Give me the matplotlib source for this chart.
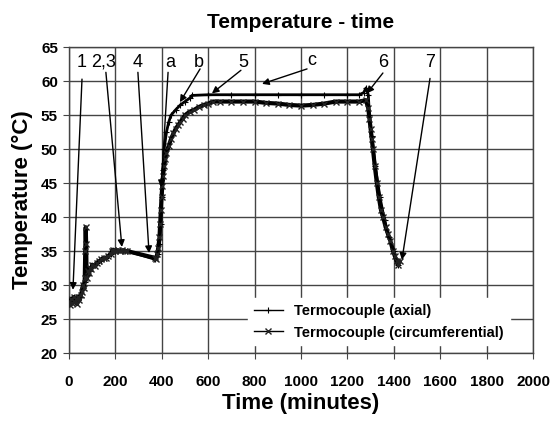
import matplotlib
matplotlib.use("Agg")
import matplotlib.pyplot as plt

plt.rcParams['font.family'] = ['Liberation Sans', 'DejaVu Sans']

# Circumferential thermocouple (time [min], temperature [°C])
circ_t = [0, 5, 10, 15, 20, 25, 30, 35, 40, 45, 50, 55, 60, 65, 68, 70, 72, 74, 76, 80,
          85, 90, 95, 100, 110, 120, 130, 140, 150, 160, 170, 180, 185, 190, 200, 210,
          220, 230, 240, 250, 370, 375, 380, 385, 390, 393, 396, 399, 402, 405, 410, 415,
          420, 430, 440, 450, 460, 470, 480, 490, 500, 520, 540, 560, 580, 600, 620, 650,
          700, 750, 800, 850, 900, 950, 1000, 1050, 1100, 1150, 1200, 1250, 1280, 1290,
          1295, 1300, 1305, 1310, 1318, 1327, 1335, 1345, 1354, 1365, 1375, 1385, 1397,
          1405, 1412, 1418, 1425]
circ_T = [27.5, 27.0, 28.0, 27.3, 28.2, 27.5, 28.0, 27.2, 28.3, 27.8, 28.5, 29.0, 30.0, 29.5,
          31.0, 35.0, 38.5, 36.0, 31.0, 32.0, 31.8, 32.5, 32.3, 33.0, 32.8, 33.3, 33.5, 33.8,
          34.0, 34.0, 34.3, 34.6, 35.0, 35.2, 35.0, 35.1, 35.0, 35.1, 35.0, 35.0, 34.0, 33.8,
          34.5, 35.5, 37.0, 39.0, 41.0, 43.0, 44.5, 46.0, 47.5, 48.5, 49.5, 50.5, 51.5, 52.3,
          53.0, 53.5, 54.0, 54.5, 55.0, 55.5, 55.8, 56.2, 56.5, 56.7, 57.0, 57.0, 57.0, 57.0,
          57.0, 56.8, 56.7, 56.5, 56.4, 56.5, 56.7, 57.0, 57.0, 57.0, 57.2, 56.0, 54.5, 53.0,
          51.5, 50.0, 47.5, 45.0, 43.0, 41.0, 40.0, 38.5, 37.5, 36.5, 35.0, 34.2, 33.5, 33.0,
          33.5]

# Axial thermocouple
axial_t = [0, 10, 20, 30, 40, 50, 60, 70, 80, 90, 100, 110, 120, 140, 160, 180, 190, 200,
           250, 370, 385, 390, 395, 400, 405, 410, 420, 430, 440, 460, 480, 500, 520, 530,
           600, 700, 800, 900, 1000, 1100, 1200, 1250, 1270, 1280, 1290, 1295, 1305, 1320,
           1340, 1360, 1380, 1400, 1415, 1420]
axial_T = [27.8, 27.5, 28.3, 27.8, 28.0, 28.2, 29.5, 30.5, 31.5, 32.0, 32.6, 33.0, 33.2,
           33.6, 34.0, 34.5, 35.0, 35.0, 35.0, 33.8, 34.5, 36.0, 39.0, 43.0, 47.0, 50.0,
           52.5, 54.0, 55.0, 55.8, 56.5, 57.0, 57.5, 57.9, 58.0, 58.0, 58.0, 58.0, 58.0,
           58.0, 58.0, 58.0, 58.3, 59.0, 58.0, 55.0, 52.0, 47.5, 43.0, 39.5, 37.0, 35.0,
           33.3, 33.0]

# Annotations: label, label position, arrow tail, arrow head
ann_labels = ["1", "2,3", "4", "a", "b", "5", "c", "6", "7"]
ann_text_xy = [(56, 62.8), (147, 62.8), (297, 62.8), (435, 62.8), (560, 62.8),
               (750, 62.8), (1047, 63.0), (1353, 62.8), (1556, 62.8)]
ann_tail = [(56, 60.3), (159, 61.3), (297, 61.3), (427, 61.3), (565, 61.8),
            (741, 61.6), (1026, 61.8), (1353, 61.2), (1556, 60.4)]
ann_head = [(17, 29.3), (228, 35.6), (345, 34.7), (397, 44.4), (478, 56.9),
            (616, 58.2), (832, 59.6), (1284, 58.2), (1435, 33.7)]

fig = plt.figure(figsize=(5.52, 4.25), dpi=100)
ax = fig.add_axes([0.125, 0.1694, 0.8406, 0.7196])

ax.plot(axial_t, axial_T, color='black', lw=2.0, marker='+', ms=4, mew=0.8,
        label='Termocouple (axial)', zorder=3)
ax.plot(circ_t, circ_T, color='black', lw=3.0, marker='x', ms=4.5, mew=1.0,
        mec='#222222', label='Termocouple (circumferential)', zorder=3)

for lab, txy, tail, head in zip(ann_labels, ann_text_xy, ann_tail, ann_head):
    ax.text(txy[0], txy[1], lab, ha='center', va='center', fontsize=13, zorder=5)
    ax.annotate('', xy=head, xytext=tail,
                arrowprops=dict(arrowstyle='-|>', color='black', lw=1.0,
                                mutation_scale=10, shrinkA=0, shrinkB=0), zorder=5)

ax.set_xlim(0, 2000)
ax.set_ylim(20, 65)
ax.set_xticks(range(0, 2001, 200))
ax.set_yticks(range(20, 66, 5))
ax.grid(True, color='#444444', lw=1.0)
ax.set_axisbelow(True)
for s in ax.spines.values():
    s.set_color('#444444')
    s.set_linewidth(1.0)
ax.tick_params(axis='both', labelsize=11, length=4, color='#444444')
for lbl in ax.get_xticklabels() + ax.get_yticklabels():
    lbl.set_fontweight('bold')
ax.tick_params(axis='x', pad=12)
ax.tick_params(axis='y', pad=4)

ax.set_title('Temperature - time', fontsize=15, fontweight='bold', pad=14)
ax.set_xlabel('Time (minutes)', fontsize=16, fontweight='bold', labelpad=3)
ax.set_ylabel('Temperature (°C)', fontsize=16, fontweight='bold', labelpad=6)

leg = ax.legend(loc='lower right', bbox_to_anchor=(0.95, 0.025), borderaxespad=0,
                fontsize=10.5, frameon=True, fancybox=False, framealpha=1,
                edgecolor='white', handlelength=2.0)
for t in leg.get_texts():
    t.set_fontweight('bold')
for h in leg.get_lines():
    h.set_linewidth(1.0)

fig.savefig('out.png', dpi=100)
